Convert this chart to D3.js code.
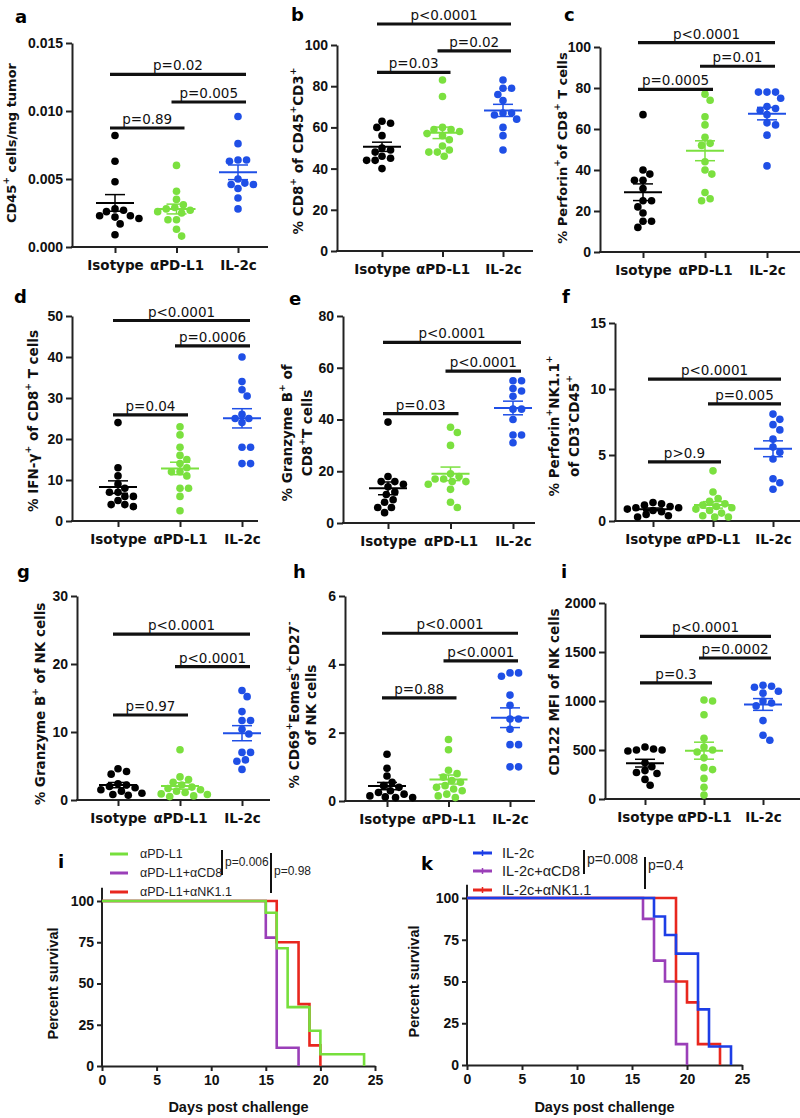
<!DOCTYPE html>
<html><head><meta charset="utf-8">
<script src="https://cdn.jsdelivr.net/npm/d3@7"></script>
<style>body{margin:0;background:#fff} svg{display:block}</style>
</head><body>
<svg id="fig" width="800" height="1118"></svg>
<script>
// ---------- data ----------
const groups = ["Isotype", "αPD-L1", "IL-2c"];
const groupColors = ["#000000", "#7be03f", "#1f4fe6"];

const dataA = [
  [0.0082, 0.0063, 0.0048, 0.0028, 0.0027, 0.0026, 0.0023, 0.0023, 0.0022, 0.0021, 0.0017, 0.0009],
  [0.0060, 0.0041, 0.0035, 0.0031, 0.0029, 0.0028, 0.0027, 0.0026, 0.0025, 0.0020, 0.0020, 0.0013, 0.0008],
  [0.0096, 0.0076, 0.0064, 0.0064, 0.0063, 0.0050, 0.0047, 0.0046, 0.0046, 0.0043, 0.0036, 0.0028]
];
const dataB = [
  [63, 62, 60, 56, 50, 49, 48, 46, 45, 44, 44, 40],
  [83, 75, 60, 59, 59, 58, 57, 56, 54, 51, 49, 48, 48, 46],
  [83, 79, 79, 76, 73, 67, 67, 66, 64, 60, 56, 49]
];
const dataC = [
  [67, 40, 38, 35, 35, 31, 25, 25, 22, 19, 15, 15, 12],
  [77, 74, 66, 62, 56, 53, 52, 44, 40, 38, 29, 26, 25],
  [78, 78, 78, 75, 71, 70, 69, 67, 63, 62, 57, 42]
];
const dataD = [
  [24, 13, 11, 9, 8, 7, 7, 6, 6, 5, 4, 4, 3.5],
  [23, 21, 18, 16, 15, 14, 13, 12, 12, 11, 8, 8, 6, 2.5],
  [40, 34, 32, 30.5, 26, 25, 25, 24, 18, 18, 14, 14]
];
const dataE = [
  [39, 18, 16, 16, 15, 14, 12, 11, 9, 8, 6, 6, 4],
  [37, 35, 30, 19, 18, 17, 17, 16, 16, 15, 13, 8, 6],
  [55, 55, 52, 51, 49, 44, 44, 40, 34, 34, 31]
];
const dataF = [
  [1.4, 1.3, 1.2, 1.1, 1.0, 1.0, 0.9, 0.8, 0.7, 0.5, 0.4, 0.3],
  [3.8, 2.2, 1.7, 1.5, 1.3, 1.2, 1.1, 1.0, 0.9, 0.8, 0.6, 0.4, 0.3, 0.3],
  [8.1, 7.7, 7.3, 6.9, 6.2, 5.6, 5.2, 4.7, 3.2, 2.9, 2.4]
];
const dataG = [
  [4.6, 4.2, 3.8, 2.4, 2.2, 2.0, 1.8, 1.5, 1.3, 1.0, 0.8, 0.7],
  [7.4, 3.4, 3.0, 2.6, 2.2, 1.9, 1.7, 1.5, 1.3, 1.1, 0.9, 0.8, 0.6, 0.5],
  [16.1, 15.2, 13.0, 11.7, 11.7, 10.4, 9.7, 7.0, 7.0, 5.9, 5.7, 4.5]
];
const dataH = [
  [1.37, 0.96, 0.73, 0.55, 0.45, 0.4, 0.3, 0.25, 0.2, 0.15, 0.12, 0.1, 0.1],
  [1.8, 1.5, 0.9, 0.8, 0.7, 0.6, 0.55, 0.45, 0.4, 0.35, 0.3, 0.2, 0.15, 0.1],
  [3.75, 3.75, 3.65, 3.1, 2.8, 2.4, 2.4, 2.1, 1.65, 1.65, 1.0, 1.0]
];
const dataI = [
  [530, 510, 500, 500, 490, 370, 330, 290, 270, 260, 200, 140],
  [1010, 1000, 860, 620, 530, 500, 480, 420, 320, 300, 210, 120, 40],
  [1160, 1150, 1140, 1100, 1080, 1000, 980, 950, 800, 650, 600]
];

const ticksA = [0, 0.005, 0.010, 0.015];
const ticksB = [0, 20, 40, 60, 80, 100];
const ticksC = [0, 20, 40, 60, 80, 100];
const ticksD = [0, 10, 20, 30, 40, 50];
const ticksE = [0, 20, 40, 60, 80];
const ticksF = [0, 5, 10, 15];
const ticksG = [0, 10, 20, 30];
const ticksH = [0, 2, 4, 6];
const ticksI = [0, 500, 1000, 1500, 2000];

// significance brackets: [label, fromGroup, toGroup, height]
const sigA = [["p=0.02", 0, 2, 0.0127], ["p=0.005", 1, 2, 0.01066], ["p=0.89", 0, 1, 0.00875]];
const sigB = [["p<0.0001", 0, 2, 110.2], ["p=0.02", 1, 2, 97.1], ["p=0.03", 0, 1, 86.7]];
const sigC = [["p<0.0001", 0, 2, 102.1], ["p=0.01", 1, 2, 90.6], ["p=0.0005", 0, 1, 79.3]];
const sigD = [["p<0.0001", 0, 2, 48.9], ["p=0.0006", 1, 2, 42.7], ["p=0.04", 0, 1, 25.9]];
const sigE = [["p<0.0001", 0, 2, 69.8], ["p<0.0001", 1, 2, 58.7], ["p=0.03", 0, 1, 42.3]];
const sigF = [["p<0.0001", 0, 2, 10.75], ["p=0.005", 1, 2, 8.88], ["p>0.9", 0, 1, 4.48]];
const sigG = [["p<0.0001", 0, 2, 24.4], ["p<0.0001", 1, 2, 19.6], ["p=0.97", 0, 1, 12.5]];
const sigH = [["p<0.0001", 0, 2, 4.91], ["p<0.0001", 1, 2, 4.1], ["p=0.88", 0, 1, 3.02]];
const sigI = [["p<0.0001", 0, 2, 1660], ["p=0.0002", 1, 2, 1439], ["p=0.3", 0, 1, 1184]];

// survival data [day, percent]
const survNamesJ = ["αPD-L1", "αPD-L1+αCD8", "αPD-L1+αNK1.1"];
const survPDL1 = [[0, 100], [15, 92.9], [16, 71.4], [17, 35.7], [19, 21.4], [20, 7.1], [24, 0]];
const survPDL1CD8 = [[0, 100], [15, 77.8], [16, 11.1], [18, 0]];
const survPDL1NK = [[0, 100], [16, 75], [18, 37.5], [19, 12.5], [20, 0]];
const survNamesK = ["IL-2c", "IL-2c+αCD8", "IL-2c+αNK1.1"];
const survIL2 = [[0, 100], [17, 88.9], [18, 77.8], [19, 66.7], [21, 33.3], [22, 11.1], [24, 0]];
const survIL2CD8 = [[0, 100], [16, 87.5], [17, 62.5], [18, 50], [19, 12.5], [20, 0]];
const survIL2NK = [[0, 100], [19, 50], [20, 37.5], [21, 12.5], [23, 0]];
const survXTicks = [0, 5, 10, 15, 20, 25];
const survYTicks = [0, 25, 50, 75, 100];

// ---------- drawing ----------
const svg = d3.select("#fig");
const FONT = "'DejaVu Sans', sans-serif";
const AFONT = "'Liberation Sans', Arial, sans-serif";

function addRich(textSel, str, size) {
  const parts = str.split("^");
  parts.forEach((p, i) => {
    if (p === "") return;
    const ts = textSel.append("tspan").text(p);
    if (i % 2 === 1) ts.attr("baseline-shift", "super").attr("font-size", size * 0.68);
  });
}

function styleAxis(sel, font, size) {
  sel.selectAll(".domain").attr("stroke", "#222").attr("stroke-width", 2);
  sel.selectAll(".tick line").attr("stroke", "#222").attr("stroke-width", 2);
  sel.selectAll(".tick text").attr("fill", "#111").attr("font-family", font)
     .attr("font-weight", "bold").attr("font-size", size);
}

function swarm(values, cx, y, r) {
  const pts = values.map(v => ({ v, y: y(v) })).sort((a, b) => a.y - b.y);
  const placed = [];
  const step = r * 0.45;
  pts.forEach(p => {
    for (let k = 0; k < 200; k++) {
      const off = k === 0 ? 0 : (k % 2 ? 1 : -1) * Math.ceil(k / 2) * step;
      const px = cx + off;
      const ok = placed.every(q => Math.hypot(q.x - px, q.y - p.y) >= 2 * r * 1.02);
      if (ok) { p.x = px; placed.push(p); break; }
    }
  });
  return placed;
}

function drawDotPanel(cfg) {
  const g = svg.append("g");
  const x = d3.scalePoint().domain(groups).range([cfg.c1, cfg.c3]);
  const y = d3.scaleLinear().domain([0, d3.max(cfg.ticks)]).range([cfg.yBot, cfg.yTop]);

  const ya = g.append("g").attr("transform", `translate(${cfg.ax},0)`)
    .call(d3.axisLeft(y).tickValues(cfg.ticks).tickFormat(cfg.fmt).tickSize(6).tickPadding(3).tickSizeOuter(0));
  styleAxis(ya, AFONT, 14);

  const xa = g.append("g").attr("transform", `translate(0,${cfg.yBot})`)
    .call(d3.axisBottom(x).tickSize(6).tickPadding(7).tickSizeOuter(0));
  xa.select(".domain").remove();
  styleAxis(xa, FONT, 13.5);
  g.append("line").attr("x1", cfg.ax - 1).attr("x2", cfg.xe).attr("y1", cfg.yBot).attr("y2", cfg.yBot)
    .attr("stroke", "#222").attr("stroke-width", 2);

  const r = 3.8;
  cfg.data.forEach((vals, gi) => {
    const col = groupColors[gi];
    const cx = x(groups[gi]);
    const pts = swarm(vals, cx, y, r);
    g.append("g").selectAll("circle").data(pts).join("circle")
      .attr("cx", d => d.x).attr("cy", d => d.y).attr("r", r).attr("fill", col);
    const m = d3.mean(vals);
    const se = d3.deviation(vals) / Math.sqrt(vals.length);
    g.append("line").attr("x1", cx - 19).attr("x2", cx + 19).attr("y1", y(m)).attr("y2", y(m))
      .attr("stroke", col).attr("stroke-width", 2);
    g.append("line").attr("x1", cx).attr("x2", cx).attr("y1", y(m - se)).attr("y2", y(m + se))
      .attr("stroke", col).attr("stroke-width", 1.5);
    [m - se, m + se].forEach(v => g.append("line").attr("x1", cx - 10).attr("x2", cx + 10)
      .attr("y1", y(v)).attr("y2", y(v)).attr("stroke", col).attr("stroke-width", 1.5));
  });

  cfg.sig.forEach(([lab, i, j, h]) => {
    const x1 = x(groups[i]) - 5, x2 = x(groups[j]) + 8, yy = y(h);
    g.append("line").attr("x1", x1).attr("x2", x2).attr("y1", yy).attr("y2", yy)
      .attr("stroke", "#111").attr("stroke-width", 3.2);
    g.append("text").attr("x", (x1 + x2) / 2).attr("y", yy - 4).attr("text-anchor", "middle")
      .attr("font-family", FONT).attr("font-size", 13.5).attr("fill", "#111").text(lab);
  });

  g.append("text").attr("x", cfg.letter[0]).attr("y", cfg.letter[1])
    .attr("font-family", FONT).attr("font-weight", "bold").attr("font-size", 18).text(cfg.id);

  const ls = cfg.ylabSize || 13.5;
  cfg.ylab.forEach((lab, k) => {
    const t = g.append("text")
      .attr("transform", `translate(${cfg.ylabX[k]},${cfg.ylabY}) rotate(-90)`)
      .attr("text-anchor", "middle").attr("dominant-baseline", "central")
      .attr("font-family", FONT).attr("font-weight", "bold").attr("font-size", ls).attr("fill", "#111");
    addRich(t, lab, ls);
  });
}

const f3 = d3.format(".3f"), f0 = d3.format("d");
const panels = [
  { id: "a", data: dataA, ticks: ticksA, fmt: f3, sig: sigA, ax: 72, xe: 268, c1: 115, c3: 238, yTop: 43, yBot: 247,
    letter: [15, 23], ylab: ["CD45^+^ cells/mg tumor"], ylabX: [11], ylabY: 143, ylabSize: 13 },
  { id: "b", data: dataB, ticks: ticksB, fmt: f0, sig: sigB, ax: 337, xe: 533, c1: 382, c3: 503, yTop: 45, yBot: 251,
    letter: [291, 21], ylab: ["% CD8^+^ of CD45^+^CD3^+^"], ylabX: [298], ylabY: 151 },
  { id: "c", data: dataC, ticks: ticksC, fmt: f0, sig: sigC, ax: 600, xe: 800, c1: 643, c3: 767, yTop: 47, yBot: 252,
    letter: [564, 21], ylab: ["% Perforin^+^of CD8^+^ T cells"], ylabX: [562], ylabY: 148, ylabSize: 13 },
  { id: "d", data: dataD, ticks: ticksD, fmt: f0, sig: sigD, ax: 72, xe: 258, c1: 118, c3: 242, yTop: 316, yBot: 521,
    letter: [14, 303], ylab: ["% IFN-γ^+^ of CD8^+^  T cells"], ylabX: [33], ylabY: 421 },
  { id: "e", data: dataE, ticks: ticksE, fmt: f0, sig: sigE, ax: 343, xe: 535, c1: 388, c3: 513, yTop: 316, yBot: 523,
    letter: [289, 305], ylab: ["% Granzyme B^+^ of", "CD8^+^T cells"], ylabX: [287, 307], ylabY: 433 },
  { id: "f", data: dataF, ticks: ticksF, fmt: f0, sig: sigF, ax: 615, xe: 800, c1: 653, c3: 773, yTop: 323, yBot: 521,
    letter: [562, 303], ylab: ["% Perforin^+^NK1.1^+^", "of CD3^-^CD45^+^"], ylabX: [554, 574], ylabY: 426 },
  { id: "g", data: dataG, ticks: ticksG, fmt: f0, sig: sigG, ax: 77, xe: 270, c1: 118, c3: 242, yTop: 596, yBot: 800,
    letter: [17, 578], ylab: ["% Granzyme B^+^ of NK cells"], ylabX: [40], ylabY: 704 },
  { id: "h", data: dataH, ticks: ticksH, fmt: f0, sig: sigH, ax: 345, xe: 535, c1: 387, c3: 510, yTop: 596, yBot: 801,
    letter: [293, 578], ylab: ["% CD69^+^Eomes^+^CD27^-^", "of NK cells"], ylabX: [294, 311], ylabY: 705 },
  { id: "i", data: dataI, ticks: ticksI, fmt: f0, sig: sigI, ax: 605, xe: 800, c1: 645, c3: 763, yTop: 603, yBot: 799,
    letter: [561, 578], ylab: ["CD122 MFI of NK cells"], ylabX: [554], ylabY: 692 }
];
panels.forEach(drawDotPanel);

// ---------- survival ----------
function drawSurv(cfg) {
  const g = svg.append("g");
  const x = d3.scaleLinear().domain([0, 25]).range([cfg.x0, cfg.x1]);
  const y = d3.scaleLinear().domain([0, 100]).range([cfg.y0, cfg.y100]);

  const ya = g.append("g").attr("transform", `translate(${cfg.x0},0)`)
    .call(d3.axisLeft(y).tickValues(survYTicks).tickSize(5).tickPadding(3).tickSizeOuter(0));
  ya.select(".domain").remove();
  styleAxis(ya, AFONT, 14);
  g.append("line").attr("x1", cfg.x0).attr("x2", cfg.x0).attr("y1", cfg.y0 + 1).attr("y2", y(108))
    .attr("stroke", "#222").attr("stroke-width", 2);

  const xa = g.append("g").attr("transform", `translate(0,${cfg.y0})`)
    .call(d3.axisBottom(x).tickValues(survXTicks).tickSize(5).tickPadding(4).tickSizeOuter(0));
  styleAxis(xa, AFONT, 14);

  const line = d3.line().x(d => x(d[0])).y(d => y(d[1])).curve(d3.curveStepAfter);
  cfg.order.forEach(k => {
    const s = cfg.series[k];
    g.append("path").attr("d", line(s.data)).attr("fill", "none")
      .attr("stroke", s.color).attr("stroke-width", 2.6);
  });

  cfg.series.forEach((s, k) => {
    const ly = cfg.legY[k];
    g.append("line").attr("x1", cfg.legX).attr("x2", cfg.legX + cfg.legW).attr("y1", ly).attr("y2", ly)
      .attr("stroke", s.color).attr("stroke-width", 3);
    if (cfg.legTick) {
      const mx = cfg.legX + cfg.legW / 2;
      g.append("line").attr("x1", mx).attr("x2", mx).attr("y1", ly - 3).attr("y2", ly + 3)
        .attr("stroke", s.color).attr("stroke-width", 1.5);
    }
    g.append("text").attr("x", cfg.legTextX).attr("y", cfg.legTextY[k])
      .attr("font-family", AFONT).attr("font-size", cfg.legSize).attr("fill", "#222").text(s.name);
  });

  cfg.pv.forEach(p => {
    g.append("line").attr("x1", p.x).attr("x2", p.x).attr("y1", p.y1).attr("y2", p.y2)
      .attr("stroke", "#111").attr("stroke-width", 2);
    g.append("text").attr("x", p.x + 3).attr("y", p.ty).attr("font-family", AFONT)
      .attr("font-size", cfg.pvSize).attr("fill", "#222").text(p.t);
  });

  g.append("text").attr("x", cfg.letter[0]).attr("y", cfg.letter[1])
    .attr("font-family", FONT).attr("font-weight", "bold").attr("font-size", 18).text(cfg.id);
  g.append("text").attr("transform", `translate(${cfg.ylx},${(cfg.y0 + cfg.y100) / 2}) rotate(-90)`)
    .attr("text-anchor", "middle").attr("dominant-baseline", "central")
    .attr("font-family", AFONT).attr("font-weight", "bold").attr("font-size", 14.5).attr("fill", "#111")
    .text("Percent survival");
  g.append("text").attr("x", (cfg.x0 + cfg.x1) / 2).attr("y", 1112).attr("text-anchor", "middle")
    .attr("font-family", AFONT).attr("font-weight", "bold").attr("font-size", 14.5).attr("fill", "#111")
    .text("Days post challenge");
}

drawSurv({
  id: "i", letter: [58, 868], x0: 102, x1: 375, y0: 1066, y100: 901, ylx: 53,
  series: [
    { name: survNamesJ[0], data: survPDL1, color: "#76df3c" },
    { name: survNamesJ[1], data: survPDL1CD8, color: "#9a3fb8" },
    { name: survNamesJ[2], data: survPDL1NK, color: "#e8271e" }
  ],
  order: [1, 2, 0],
  legX: 110, legW: 18, legY: [854, 873, 892], legTextX: 140, legTextY: [858, 877, 896], legSize: 12.5, legTick: false,
  pvSize: 12,
  pv: [{ x: 222, y1: 850, y2: 875, ty: 866, t: "p=0.006" }, { x: 271, y1: 853, y2: 893, ty: 875, t: "p=0.98" }]
});
drawSurv({
  id: "k", letter: [421, 870], x0: 467, x1: 742, y0: 1065, y100: 898, ylx: 414,
  series: [
    { name: survNamesK[0], data: survIL2, color: "#1d3ee6" },
    { name: survNamesK[1], data: survIL2CD8, color: "#9a3fb8" },
    { name: survNamesK[2], data: survIL2NK, color: "#e8271e" }
  ],
  order: [1, 2, 0],
  legX: 473, legW: 19, legY: [853, 871, 890], legTextX: 502, legTextY: [858, 876, 895], legSize: 14.5, legTick: true,
  pvSize: 14,
  pv: [{ x: 584, y1: 850, y2: 874, ty: 864, t: "p=0.008" }, { x: 645, y1: 857, y2: 889, ty: 870, t: "p=0.4" }]
});
</script>
</body></html>
